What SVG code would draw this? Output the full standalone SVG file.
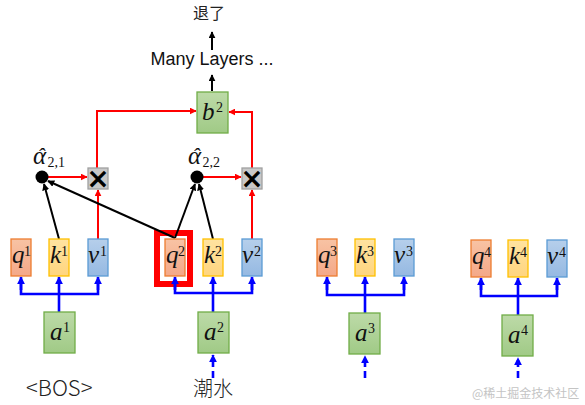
<svg xmlns="http://www.w3.org/2000/svg" width="585" height="405" viewBox="0 0 585 405">
<style>
.q{fill:url(#gq);stroke:#ed7d31;stroke-width:1.3}
.k{fill:url(#gk);stroke:#ffc000;stroke-width:1.3}
.v{fill:url(#gv);stroke:#5b9bd5;stroke-width:1.3}
.g{fill:url(#gg);stroke:#70ad47;stroke-width:1.3}
.m{font-family:"Liberation Serif","DejaVu Serif",serif;font-style:italic;font-size:25px;fill:#111}
.s{font-family:"Liberation Serif","DejaVu Serif",serif;font-size:14px;fill:#111}
.cjk{font-family:"Noto Sans CJK SC",sans-serif;fill:#222}
.bl{stroke:#0000ff;stroke-width:2.6;fill:none}
.bla{stroke:#0000ff;stroke-width:2.6;fill:none;marker-end:url(#ab)}
.bd{stroke:#0000ff;stroke-width:2.6;fill:none;stroke-dasharray:7 4;marker-end:url(#ab)}
.ra{stroke:#ff0000;stroke-width:2;fill:none;marker-end:url(#ar)}
.ka{stroke:#000;stroke-width:2;fill:none;marker-end:url(#ak)}
.x{fill:#c8c8c8;stroke:#a0a0a0;stroke-width:1.3}
.xt{font-family:"DejaVu Sans",sans-serif;font-weight:bold;font-size:28px;fill:#000}
</style>
<defs>
<linearGradient id="gq" x1="0" y1="0" x2="0" y2="1"><stop offset="0" stop-color="#f8c3a4"/><stop offset="1" stop-color="#f4a888"/></linearGradient>
<linearGradient id="gk" x1="0" y1="0" x2="0" y2="1"><stop offset="0" stop-color="#ffe3a0"/><stop offset="1" stop-color="#ffd57f"/></linearGradient>
<linearGradient id="gv" x1="0" y1="0" x2="0" y2="1"><stop offset="0" stop-color="#b6cfeb"/><stop offset="1" stop-color="#95b9e2"/></linearGradient>
<linearGradient id="gg" x1="0" y1="0" x2="0" y2="1"><stop offset="0" stop-color="#bddaa8"/><stop offset="1" stop-color="#a0ca86"/></linearGradient>
<marker id="ab" viewBox="0 0 10 10" refX="9" refY="5" markerWidth="3" markerHeight="3" orient="auto" markerUnits="strokeWidth"><path d="M0,0 L10,5 L0,10 z" fill="#0000ff"/></marker>
<marker id="ar" viewBox="0 0 10 10" refX="9" refY="5" markerWidth="3.5" markerHeight="3.5" orient="auto" markerUnits="strokeWidth"><path d="M0,0 L10,5 L0,10 z" fill="#ff0000"/></marker>
<marker id="ak" viewBox="0 0 10 10" refX="9" refY="5" markerWidth="3.5" markerHeight="3.5" orient="auto" markerUnits="strokeWidth"><path d="M0,0 L10,5 L0,10 z" fill="#000"/></marker>
</defs>
<rect width="585" height="405" fill="#fff"/>

<g id="highlight"><rect x="157" y="233" width="33" height="51" fill="none" stroke="#ff0000" stroke-width="6"/></g>

<g id="connectors">
<line class="bla" x1="59" y1="312" x2="59" y2="277"/>
<polyline class="bl" points="21,282 21,294 98,294 98,282"/>
<line class="bla" x1="21" y1="290" x2="21" y2="277"/>
<line class="bla" x1="98" y1="290" x2="98" y2="277"/>
<line class="bla" x1="213" y1="312" x2="213" y2="277"/>
<polyline class="bl" points="175,282 175,293 252,293 252,282"/>
<line class="bla" x1="175" y1="290" x2="175" y2="277"/>
<line class="bla" x1="252" y1="290" x2="252" y2="277"/>
<line class="bd" x1="213" y1="378" x2="213" y2="355"/>
<line class="bla" x1="365" y1="313" x2="365" y2="277"/>
<polyline class="bl" points="327,282 327,295 404,295 404,282"/>
<line class="bla" x1="327" y1="290" x2="327" y2="277"/>
<line class="bla" x1="404" y1="290" x2="404" y2="277"/>
<line class="bd" x1="365" y1="378" x2="365" y2="356"/>
<line class="bla" x1="518" y1="315" x2="518" y2="278"/>
<polyline class="bl" points="481,283 481,296 557,296 557,283"/>
<line class="bla" x1="481" y1="290" x2="481" y2="278"/>
<line class="bla" x1="557" y1="290" x2="557" y2="278"/>
<line class="bd" x1="518" y1="378" x2="518" y2="358"/>
<line class="ra" x1="98" y1="239" x2="98" y2="190"/>
<line class="ra" x1="252" y1="239" x2="252" y2="190"/>
<line class="ra" x1="48" y1="177" x2="87" y2="177"/>
<line class="ra" x1="203" y1="177" x2="241" y2="177"/>
<polyline class="ra" points="97,168 97,111 196,111"/>
<polyline class="ra" points="252,168 252,112 229,112"/>
<line class="ka" x1="59" y1="239" x2="44" y2="184"/>
<line class="ka" x1="175" y1="238" x2="48" y2="181"/>
<line class="ka" x1="175" y1="238" x2="195" y2="184"/>
<line class="ka" x1="213" y1="239" x2="199" y2="184"/>
<line class="ka" x1="212" y1="91" x2="212" y2="75"/>
<line class="ka" x1="212" y1="50" x2="212" y2="32"/>
</g>

<g id="q1"><rect class="q" x="11" y="239" width="20" height="37"/><text class="m" x="12" y="263">q</text><text class="s" x="24" y="256">1</text></g>
<g id="k1"><rect class="k" x="49" y="239" width="20" height="37"/><text class="m" x="50" y="263">k</text><text class="s" x="61" y="256">1</text></g>
<g id="v1"><rect class="v" x="88" y="239" width="20" height="37"/><text class="m" x="88" y="263">v</text><text class="s" x="100" y="256">1</text></g>

<g id="q2"><rect class="q" x="165" y="239" width="20" height="37"/><text class="m" x="166" y="263">q</text><text class="s" x="178" y="256">2</text></g>
<g id="k2"><rect class="k" x="203" y="239" width="20" height="37"/><text class="m" x="204" y="263">k</text><text class="s" x="215" y="256">2</text></g>
<g id="v2"><rect class="v" x="242" y="239" width="20" height="37"/><text class="m" x="242" y="263">v</text><text class="s" x="254" y="256">2</text></g>

<g id="q3"><rect class="q" x="317" y="239" width="20" height="37"/><text class="m" x="318" y="263">q</text><text class="s" x="330" y="256">3</text></g>
<g id="k3"><rect class="k" x="355" y="239" width="20" height="37"/><text class="m" x="356" y="263">k</text><text class="s" x="367" y="256">3</text></g>
<g id="v3"><rect class="v" x="394" y="239" width="20" height="37"/><text class="m" x="394" y="263">v</text><text class="s" x="406" y="256">3</text></g>

<g id="q4"><rect class="q" x="471" y="240" width="20" height="37"/><text class="m" x="472" y="264">q</text><text class="s" x="484" y="257">4</text></g>
<g id="k4"><rect class="k" x="508" y="240" width="20" height="37"/><text class="m" x="509" y="264">k</text><text class="s" x="520" y="257">4</text></g>
<g id="v4"><rect class="v" x="547" y="240" width="20" height="37"/><text class="m" x="547" y="264">v</text><text class="s" x="559" y="257">4</text></g>

<g id="a1"><rect class="g" x="44" y="312" width="31" height="41"/><text class="m" x="50" y="340">a</text><text class="s" x="63" y="332">1</text></g>
<g id="a2"><rect class="g" x="198" y="312" width="31" height="41"/><text class="m" x="204" y="340">a</text><text class="s" x="217" y="332">2</text></g>
<g id="a3"><rect class="g" x="349" y="313" width="31" height="41"/><text class="m" x="355" y="341">a</text><text class="s" x="368" y="333">3</text></g>
<g id="a4"><rect class="g" x="502" y="315" width="31" height="41"/><text class="m" x="508" y="343">a</text><text class="s" x="521" y="335">4</text></g>

<g id="b2"><rect class="g" x="197" y="92" width="31" height="41"/><text class="m" x="202" y="120">b</text><text class="s" x="216" y="112">2</text></g>

<g id="mul1"><rect class="x" x="88" y="168" width="20" height="21"/><text class="xt" x="98" y="187.5" text-anchor="middle">×</text></g>
<g id="mul2"><rect class="x" x="242" y="168" width="20" height="21"/><text class="xt" x="252" y="187.5" text-anchor="middle">×</text></g>

<g id="alpha21"><circle cx="42" cy="177" r="6.5" fill="#000"/><text class="m" x="33" y="164" font-size="23">α<tspan dx="-9" dy="-1" font-size="22">ˆ</tspan><tspan class="s" font-style="normal" font-size="14" dx="3" dy="4">2,1</tspan></text></g>
<g id="alpha22"><circle cx="197" cy="177" r="6.5" fill="#000"/><text class="m" x="188" y="164" font-size="23">α<tspan dx="-9" dy="-1" font-size="22">ˆ</tspan><tspan class="s" font-style="normal" font-size="14" dx="3" dy="4">2,2</tspan></text></g>

<g id="many"><text x="212" y="65" text-anchor="middle" font-family="Liberation Sans,Arial,sans-serif" font-size="18" fill="#111">Many Layers ...</text></g>
<g id="out"><text class="cjk" x="193" y="19" font-size="16">退了</text></g>
<g id="bos"><text class="cjk" x="26" y="396" font-size="22" font-weight="300">&lt;BOS&gt;</text></g>
<g id="chao"><text class="cjk" x="193" y="396" font-size="20" font-weight="300">潮水</text></g>
<text x="472" y="398" font-family="Noto Sans CJK SC,sans-serif" font-size="12" fill="#c4c4c4">@稀土掘金技术社区</text>
</svg>
